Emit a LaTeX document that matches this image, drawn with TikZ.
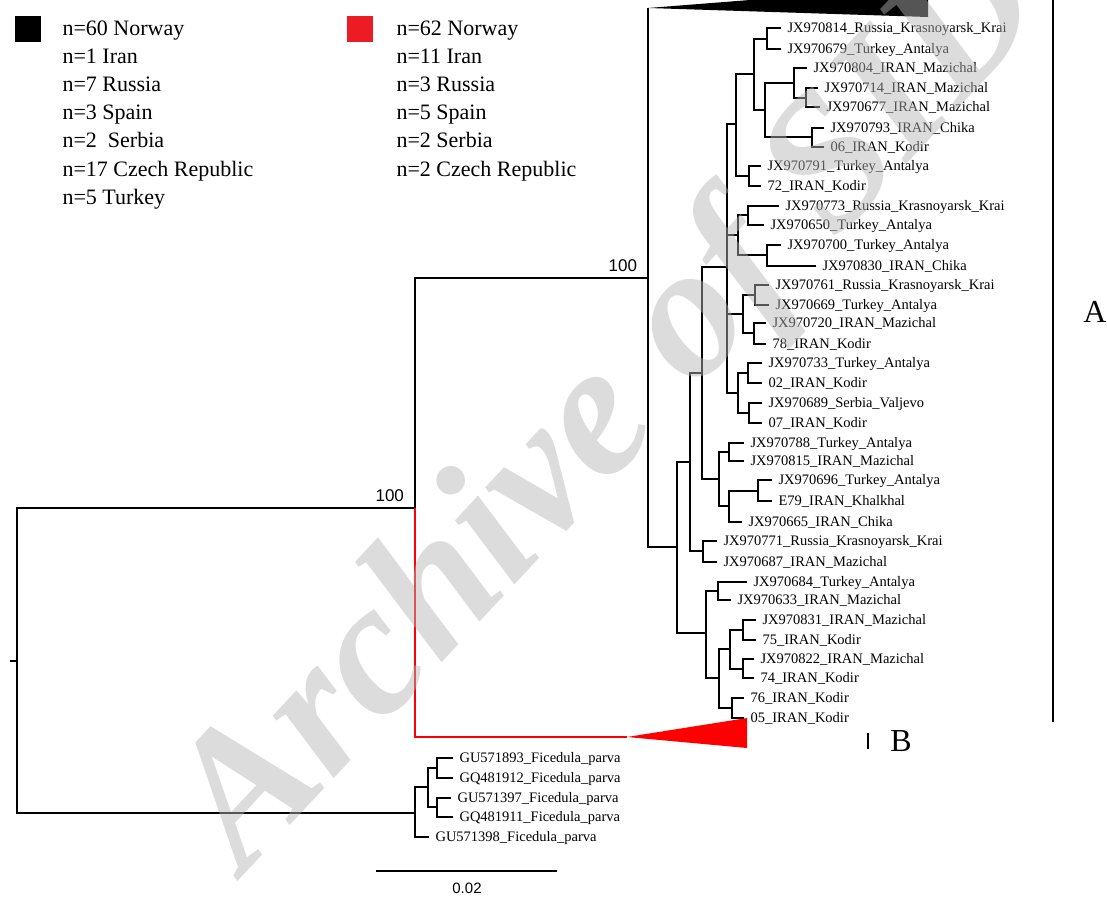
\documentclass[tikz,border=0pt]{standalone}
\usepackage{fontspec}
\setmainfont{Liberation Serif}
\newfontfamily\labelsans{Liberation Sans}
\definecolor{legred}{HTML}{ED1C24}
\definecolor{wmgray}{gray}{0.71}

\begin{document}
\begin{tikzpicture}[x=1pt, y=-1pt, line width=1.1pt,
    leaf/.style={anchor=west, inner xsep=6pt, inner ysep=0pt, text height=9.5pt, text depth=0pt, font=\fontsize{14.5}{16}\selectfont},
    legtxt/.style={anchor=base west, inner sep=0pt, font=\fontsize{22}{26}\selectfont},
    keybox/.style={minimum size=26pt, inner sep=0pt},
    boot/.style={anchor=base east, inner sep=0pt, xshift=-10.5pt, yshift=7pt, font=\labelsans\fontsize{17}{20}\selectfont},
    clade/.style={inner sep=0pt, font=\fontsize{32}{36}\selectfont},
    watermark/.style={rotate=47, text=wmgray, fill opacity=0.47, font=\fontsize{190}{200}\selectfont\bfseries\itshape}]

    \useasboundingbox (0,0) rectangle (1107,897);

    % Legend
    \node[keybox, fill=black] (keyK) at (28,29) {};
    \node[legtxt] (legK1) at (62,35) {n=60 Norway};
    \node[legtxt] (legK2) at (62,63.2) {n=1 Iran};
    \node[legtxt] (legK3) at (62,91.4) {n=7 Russia};
    \node[legtxt] (legK4) at (62,119.6) {n=3 Spain};
    \node[legtxt] (legK5) at (62,147.8) {n=2\ \ Serbia};
    \node[legtxt] (legK6) at (62,176) {n=17 Czech Republic};
    \node[legtxt] (legK7) at (62,204.2) {n=5 Turkey};

    \node[keybox, fill=legred] (keyR) at (360,29) {};
    \node[legtxt] (legR1) at (396,35) {n=62 Norway};
    \node[legtxt] (legR2) at (396,63.2) {n=11 Iran};
    \node[legtxt] (legR3) at (396,91.4) {n=3 Russia};
    \node[legtxt] (legR4) at (396,119.6) {n=5 Spain};
    \node[legtxt] (legR5) at (396,147.8) {n=2 Serbia};
    \node[legtxt] (legR6) at (396,176) {n=2 Czech Republic};

    % Root and main splits
    \coordinate (rtick) at (10,661);
    \coordinate (root) at (17,661);
    \coordinate (nB) at (415,508);
    \coordinate (nO) at (415,813);
    \coordinate (nA) at (648,278);
    \coordinate (tA) at (648,8);
    \coordinate (tB) at (627,737);

    % Clade A, inner nodes
    \coordinate (a1) at (677,547);
    \coordinate (a2) at (690,462);
    \coordinate (a3) at (706,633);
    \coordinate (a4) at (702,373);
    \coordinate (a5) at (703,551);
    \coordinate (a6) at (727,267);
    \coordinate (a7) at (719,479);
    \coordinate (a8) at (736,124);
    \coordinate (a9) at (738,235);
    \coordinate (a10) at (743,314);
    \coordinate (a11) at (738,393);
    \coordinate (a12) at (754,74);
    \coordinate (a13) at (749,176);
    \coordinate (a14) at (767,39);
    \coordinate (a15) at (765,110);
    \coordinate (a16) at (794,83);
    \coordinate (a17) at (812,137);
    \coordinate (a18) at (806,98);
    \coordinate (a19) at (748,215);
    \coordinate (a20) at (767,255);
    \coordinate (a21) at (755,295);
    \coordinate (a22) at (754,333);
    \coordinate (a23) at (748,373);
    \coordinate (a24) at (749,413);
    \coordinate (a25) at (729,452);
    \coordinate (a26) at (729,506);
    \coordinate (a27) at (758,491);
    \coordinate (a28) at (718,591);
    \coordinate (a29) at (719,678);
    \coordinate (a30) at (730,649);
    \coordinate (a31) at (732,708);
    \coordinate (a32) at (743,630);
    \coordinate (a33) at (743,669);

    % Outgroup, inner nodes
    \coordinate (g1) at (428,787);
    \coordinate (g2) at (437,768);
    \coordinate (g3) at (437,807);

    % Leaves of clade A
    \node[leaf] (l1) at (781,28) {JX970814\_Russia\_Krasnoyarsk\_Krai};
    \node[leaf] (l2) at (781,49) {JX970679\_Turkey\_Antalya};
    \node[leaf] (l3) at (807,68) {JX970804\_IRAN\_Mazichal};
    \node[leaf] (l4) at (818,88) {JX970714\_IRAN\_Mazichal};
    \node[leaf] (l5) at (820,107) {JX970677\_IRAN\_Mazichal};
    \node[leaf] (l6) at (824,128) {JX970793\_IRAN\_Chika};
    \node[leaf] (l7) at (824,147) {06\_IRAN\_Kodir};
    \node[leaf] (l8) at (761,166) {JX970791\_Turkey\_Antalya};
    \node[leaf] (l9) at (761,186) {72\_IRAN\_Kodir};
    \node[leaf] (l10) at (779,206) {JX970773\_Russia\_Krasnoyarsk\_Krai};
    \node[leaf] (l11) at (764,225) {JX970650\_Turkey\_Antalya};
    \node[leaf] (l12) at (781,245) {JX970700\_Turkey\_Antalya};
    \node[leaf] (l13) at (816,266) {JX970830\_IRAN\_Chika};
    \node[leaf] (l14) at (769,285) {JX970761\_Russia\_Krasnoyarsk\_Krai};
    \node[leaf] (l15) at (769,305) {JX970669\_Turkey\_Antalya};
    \node[leaf] (l16) at (766,323) {JX970720\_IRAN\_Mazichal};
    \node[leaf] (l17) at (766,344) {78\_IRAN\_Kodir};
    \node[leaf] (l18) at (762,363) {JX970733\_Turkey\_Antalya};
    \node[leaf] (l19) at (762,383) {02\_IRAN\_Kodir};
    \node[leaf] (l20) at (762,403) {JX970689\_Serbia\_Valjevo};
    \node[leaf] (l21) at (762,423) {07\_IRAN\_Kodir};
    \node[leaf] (l22) at (744,443) {JX970788\_Turkey\_Antalya};
    \node[leaf] (l23) at (744,461) {JX970815\_IRAN\_Mazichal};
    \node[leaf] (l24) at (772,480) {JX970696\_Turkey\_Antalya};
    \node[leaf] (l25) at (772,501) {E79\_IRAN\_Khalkhal};
    \node[leaf] (l26) at (742,522) {JX970665\_IRAN\_Chika};
    \node[leaf] (l27) at (717,541) {JX970771\_Russia\_Krasnoyarsk\_Krai};
    \node[leaf] (l28) at (717,562) {JX970687\_IRAN\_Mazichal};
    \node[leaf] (l29) at (747,582) {JX970684\_Turkey\_Antalya};
    \node[leaf] (l30) at (731,600) {JX970633\_IRAN\_Mazichal};
    \node[leaf] (l31) at (756,620) {JX970831\_IRAN\_Mazichal};
    \node[leaf] (l32) at (756,640) {75\_IRAN\_Kodir};
    \node[leaf] (l33) at (754,659) {JX970822\_IRAN\_Mazichal};
    \node[leaf] (l34) at (754,678) {74\_IRAN\_Kodir};
    \node[leaf] (l35) at (744,698) {76\_IRAN\_Kodir};
    \node[leaf] (l36) at (744,718) {05\_IRAN\_Kodir};

    % Leaves of the outgroup
    \node[leaf] (o1) at (453,758) {GU571893\_Ficedula\_parva};
    \node[leaf] (o2) at (453,778) {GQ481912\_Ficedula\_parva};
    \node[leaf] (o3) at (451,798) {GU571397\_Ficedula\_parva};
    \node[leaf] (o4) at (453,817) {GQ481911\_Ficedula\_parva};
    \node[leaf] (o5) at (429,837) {GU571398\_Ficedula\_parva};

    % Root branches
    \draw (rtick) -- (root);
    \draw (root) |- (nB) (root) |- (nO);
    \draw (nB) |- (nA);
    \draw[red] (nB) |- (tB);

    % Collapsed clades
    \fill[black] (tA) -- (928,-14) -- (928,17) -- cycle;
    \fill[red] (tB) -- (747,718) -- (747,748) -- cycle;

    % Clade A branches
    \draw (nA) |- (tA) (nA) |- (a1);
    \draw (a1) |- (a2) (a1) |- (a3);
    \draw (a2) |- (a4) (a2) |- (a5);
    \draw (a4) |- (a6) (a4) |- (a7);
    \draw (a6) |- (a8) (a6) |- (a9) (a6) |- (a10) (a6) |- (a11);
    \draw (a8) |- (a12) (a8) |- (a13);
    \draw (a12) |- (a14) (a12) |- (a15);
    \draw (a15) |- (a16) (a15) |- (a17);
    \draw (a16) |- (l3.west) (a16) |- (a18);
    \draw (a18) |- (l4.west) (a18) |- (l5.west);
    \draw (a17) |- (l6.west) (a17) |- (l7.west);
    \draw (a14) |- (l1.west) (a14) |- (l2.west);
    \draw (a13) |- (l8.west) (a13) |- (l9.west);
    \draw (a9) |- (a19) (a9) |- (a20);
    \draw (a19) |- (l10.west) (a19) |- (l11.west);
    \draw (a20) |- (l12.west) (a20) |- (l13.west);
    \draw (a10) |- (a21) (a10) |- (a22);
    \draw (a21) |- (l14.west) (a21) |- (l15.west);
    \draw (a22) |- (l16.west) (a22) |- (l17.west);
    \draw (a11) |- (a23) (a11) |- (a24);
    \draw (a23) |- (l18.west) (a23) |- (l19.west);
    \draw (a24) |- (l20.west) (a24) |- (l21.west);
    \draw (a7) |- (a25) (a7) |- (a26);
    \draw (a25) |- (l22.west) (a25) |- (l23.west);
    \draw (a26) |- (a27) (a26) |- (l26.west);
    \draw (a27) |- (l24.west) (a27) |- (l25.west);
    \draw (a5) |- (l27.west) (a5) |- (l28.west);
    \draw (a3) |- (a28) (a3) |- (a29);
    \draw (a28) |- (l29.west) (a28) |- (l30.west);
    \draw (a29) |- (a30) (a29) |- (a31);
    \draw (a30) |- (a32) (a30) |- (a33);
    \draw (a32) |- (l31.west) (a32) |- (l32.west);
    \draw (a33) |- (l33.west) (a33) |- (l34.west);
    \draw (a31) |- (l35.west) (a31) |- (l36.west);

    % Outgroup branches
    \draw (nO) |- (g1) (nO) |- (o5.west);
    \draw (g1) |- (g2) (g1) |- (g3);
    \draw (g2) |- (o1.west) (g2) |- (o2.west);
    \draw (g3) |- (o3.west) (g3) |- (o4.west);

    % Bootstrap values
    \node[boot] (bsA) at (nA) {100};
    \node[boot] (bsB) at (nB) {100};

    % Clade bars
    \coordinate (barT) at (1053,0);
    \coordinate (barB) at (1053,722);
    \draw (barT) -- (barB);
    \node[clade] (cA) at (1095,312) {A};
    \coordinate (tkT) at (868,733);
    \coordinate (tkB) at (868,749);
    \draw (tkT) -- (tkB);
    \node[clade] (cB) at (901,741) {B};

    % Scale bar
    \coordinate (sbL) at (376,871);
    \coordinate (sbR) at (557,871);
    \draw (sbL) -- (sbR);
    \node[font=\labelsans\fontsize{15}{18}\selectfont] (sbT) at (467,888) {0.02};

    % Watermark
    \node[watermark] (wm) at (614,410) {Archive of SID};

\end{tikzpicture}
\end{document}
